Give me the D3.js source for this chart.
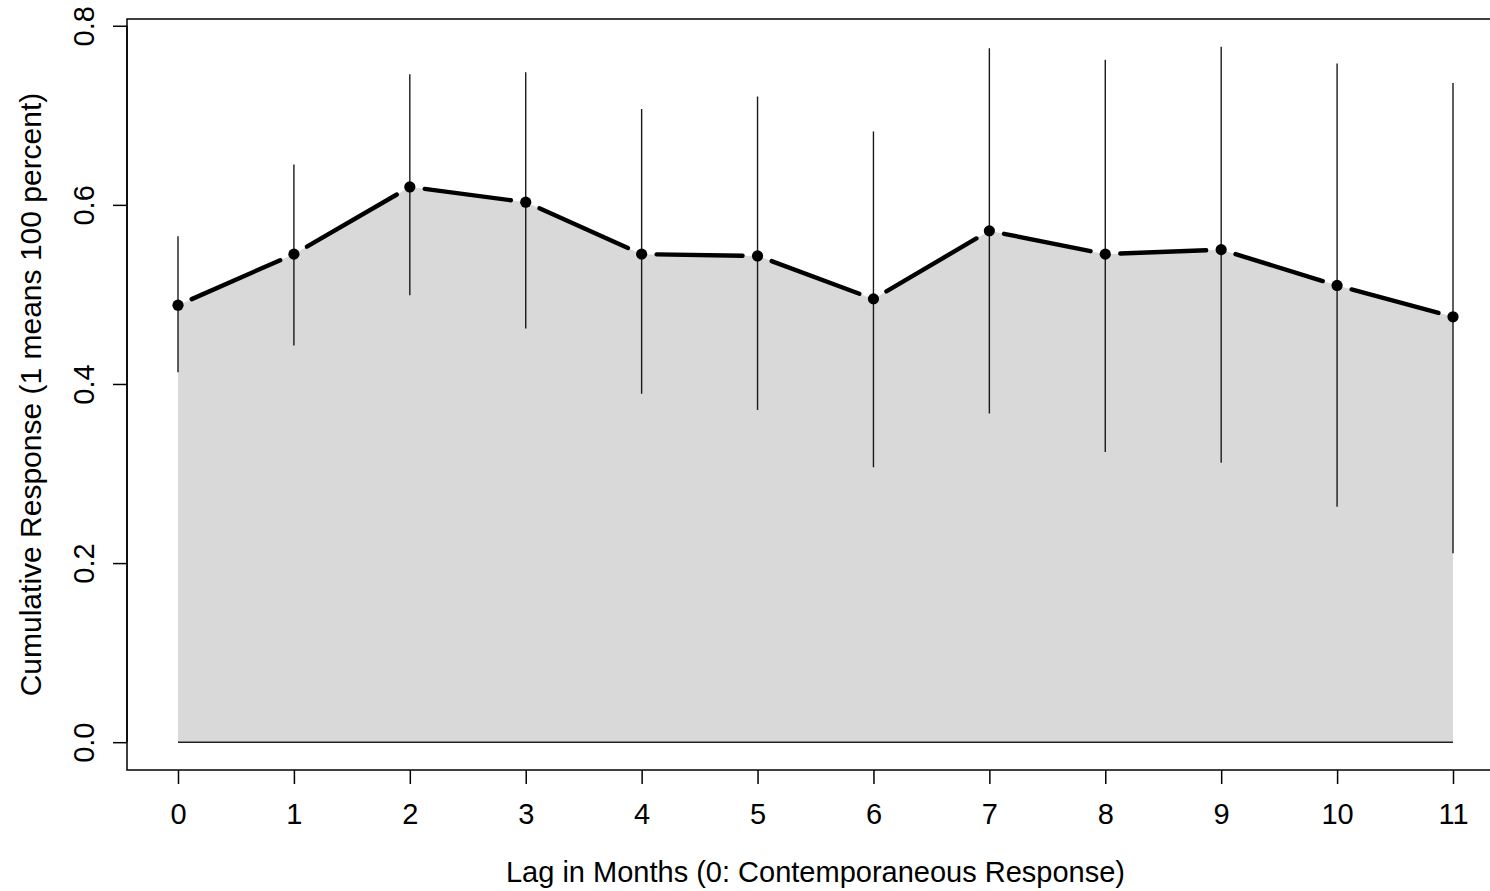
<!DOCTYPE html>
<html>
<head>
<meta charset="utf-8">
<script src="https://cdn.jsdelivr.net/npm/d3@7"></script>
<style>
  html, body { margin: 0; padding: 0; background: #fff; }
  svg { display: block; }
  text { font-family: "Liberation Sans", Arial, Helvetica, sans-serif; fill: #000; }
</style>
</head>
<body>
<svg id="chart" width="1490" height="891"></svg>
<script>
// Lag (months) and cumulative response estimates with interval bounds
const lags = [0, 1, 2, 3, 4, 5, 6, 7, 8, 9, 10, 11];
const estimate = [0.488, 0.545, 0.620, 0.603, 0.545, 0.543, 0.495, 0.571, 0.545, 0.550, 0.510, 0.475];
const lower = [0.413, 0.443, 0.499, 0.462, 0.389, 0.371, 0.307, 0.367, 0.324, 0.312, 0.263, 0.211];
const upper = [0.565, 0.645, 0.746, 0.748, 0.707, 0.721, 0.682, 0.775, 0.762, 0.7765, 0.758, 0.736];
const yTicks = [0.0, 0.2, 0.4, 0.6, 0.8];
const xLabel = "Lag in Months (0: Contemporaneous Response)";
const yLabel = "Cumulative Response (1 means 100 percent)";

const svg = d3.select("#chart");
const box = { left: 127, right: 1504, top: 19, bottom: 770 };

// Axis limits padded by 4% on each side
const xMin = d3.min(lags), xMax = d3.max(lags);
const xPad = (xMax - xMin) * 0.04;
const yMin = 0, yMax = d3.max(upper);
const yPad = (yMax - yMin) * 0.04;

const x = d3.scaleLinear().domain([xMin - xPad, xMax + xPad]).range([box.left, box.right]);
const y = d3.scaleLinear().domain([yMin - yPad, yMax + yPad]).range([box.bottom, box.top]);

const pts = lags.map((l, i) => ({ lag: l, est: estimate[i], lo: lower[i], hi: upper[i] }));

// Shaded area under the estimates, down to zero
const area = d3.area().x(d => x(d.lag)).y0(y(0)).y1(d => y(d.est));
svg.append("path").datum(pts)
  .attr("d", area)
  .attr("fill", "#d9d9d9")
  .attr("stroke", "none");

// Zero baseline across the lag range
svg.append("line")
  .attr("x1", x(xMin)).attr("x2", x(xMax))
  .attr("y1", y(0)).attr("y2", y(0))
  .attr("stroke", "#222").attr("stroke-width", 1.5);

// Interval bars
svg.append("g").selectAll("line").data(pts).join("line")
  .attr("x1", d => x(d.lag)).attr("x2", d => x(d.lag))
  .attr("y1", d => y(d.lo)).attr("y2", d => y(d.hi))
  .attr("stroke", "#1a1a1a").attr("stroke-width", 1.4);

// Connecting segments with a gap around each point
const gap = 15;
const segs = d3.pairs(pts).map(([a, b]) => {
  const x0 = x(a.lag), y0 = y(a.est), x1 = x(b.lag), y1 = y(b.est);
  const len = Math.hypot(x1 - x0, y1 - y0);
  const ux = (x1 - x0) / len, uy = (y1 - y0) / len;
  return { x0: x0 + ux * gap, y0: y0 + uy * gap, x1: x1 - ux * gap, y1: y1 - uy * gap };
});
svg.append("g").selectAll("line").data(segs).join("line")
  .attr("x1", d => d.x0).attr("y1", d => d.y0)
  .attr("x2", d => d.x1).attr("y2", d => d.y1)
  .attr("stroke", "#000").attr("stroke-width", 4.4)
  .attr("stroke-linecap", "round");

// Point markers
svg.append("g").selectAll("circle").data(pts).join("circle")
  .attr("cx", d => x(d.lag)).attr("cy", d => y(d.est))
  .attr("r", 5.6).attr("fill", "#000");

// Plot frame
svg.append("rect")
  .attr("x", box.left).attr("y", box.top)
  .attr("width", box.right - box.left).attr("height", box.bottom - box.top)
  .attr("fill", "none").attr("stroke", "#000").attr("stroke-width", 1.5);

// Bottom axis
const gx = svg.append("g")
  .attr("transform", `translate(0,${box.bottom})`)
  .call(d3.axisBottom(x).tickValues(lags).tickFormat(d3.format("d")).tickSize(14).tickSizeOuter(0));
gx.select(".domain").remove();
gx.selectAll(".tick line").attr("stroke", "#000").attr("stroke-width", 1.5);
gx.selectAll(".tick text")
  .attr("y", 0).attr("dy", null)
  .attr("transform", "translate(0,54)")
  .style("font-size", "29px")
  .attr("fill", "#000");

// Left axis
const gy = svg.append("g")
  .attr("transform", `translate(${box.left},0)`)
  .call(d3.axisLeft(y).tickValues(yTicks).tickFormat(d3.format(".1f")).tickSize(14).tickSizeOuter(0));
gy.select(".domain")
  .attr("d", `M0,${y(yTicks[0])}V${y(yTicks[yTicks.length - 1])}`)
  .attr("stroke", "#000").attr("stroke-width", 1.5);
gy.selectAll(".tick line").attr("stroke", "#000").attr("stroke-width", 1.5);
gy.selectAll(".tick text")
  .attr("x", 0).attr("dy", null)
  .attr("text-anchor", "middle")
  .attr("transform", "translate(-33,0) rotate(-90)")
  .style("font-size", "29px")
  .attr("fill", "#000");

// Axis titles
svg.append("text")
  .attr("x", (x(xMin) + x(xMax)) / 2).attr("y", 882)
  .attr("text-anchor", "middle")
  .style("font-size", "29px")
  .text(xLabel);

svg.append("text")
  .attr("transform", `translate(41,${(box.top + box.bottom) / 2}) rotate(-90)`)
  .attr("text-anchor", "middle")
  .style("font-size", "30px")
  .text(yLabel);
</script>
</body>
</html>
